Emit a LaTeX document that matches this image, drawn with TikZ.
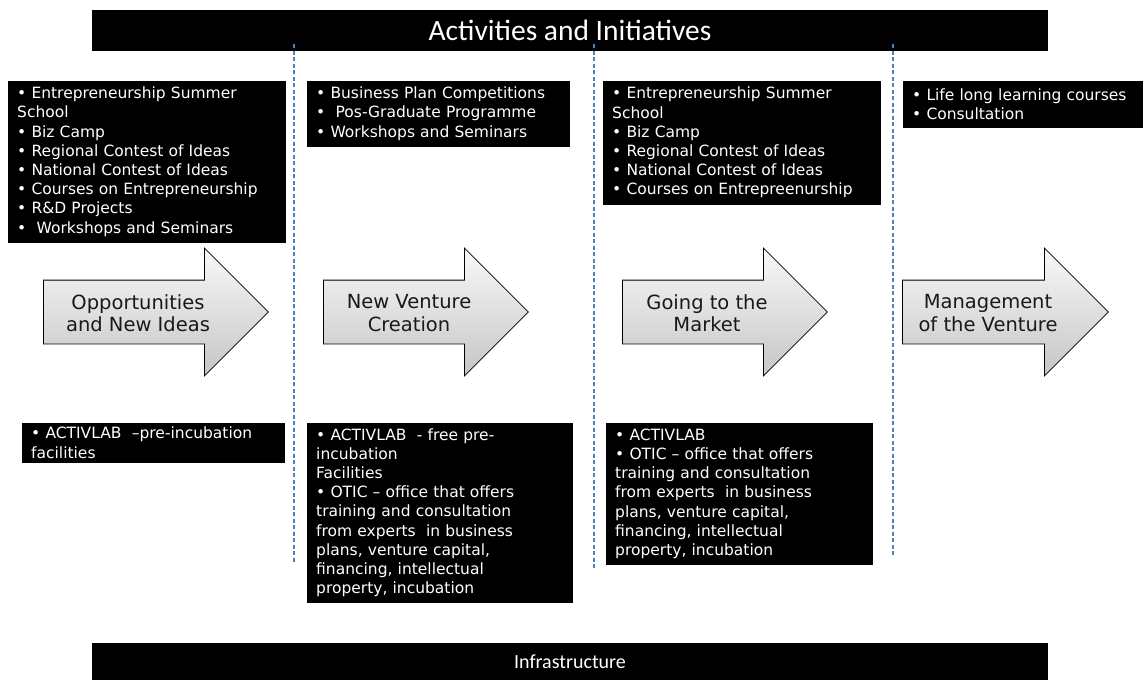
\documentclass[tikz,border=0pt]{standalone}
\usepackage{fontspec}
\setmainfont{DejaVu Sans}
\newfontfamily\barfont{Carlito}
\usepackage{xcolor}
\usetikzlibrary{shapes.arrows,positioning}
\definecolor{divblue}{HTML}{4F81BD}

\begin{document}
\begin{tikzpicture}[x=1pt, y=-1pt,
    blackbox/.style={rectangle, draw=black, fill=black, text=white, anchor=north west, align=left,
      inner xsep=9pt, inner ysep=0pt, font=\fontsize{15.5}{19.2}\selectfont},
    stagearrow/.style={single arrow, draw=black, line width=0.8pt, anchor=tail,
      single arrow head extend=32pt, single arrow head indent=0pt, inner xsep=0pt, inner ysep=31.5pt,
      top color=gray!5, bottom color=gray!45},
    stagetext/.style={align=center, text=black!90, font=\fontsize{19.5}{22.5}\selectfont},
    bar/.style={rectangle, fill=black, text=white, inner sep=0pt, minimum width=956pt},
    divider/.style={draw=divblue, dash pattern=on 4pt off 2.5pt, line width=1.2pt}]
    \useasboundingbox (0,0) rectangle (1143,680);

    \node[bar, minimum height=41pt, font=\barfont\fontsize{29.5}{31}\selectfont] (act) at (570,30.5) {Activities and Initiatives};
    \node[bar, minimum height=37pt, font=\barfont\fontsize{20}{22}\selectfont] (infra) at (570,661.5) {Infrastructure};

    \draw[divider] (294,44) -- (294,562);
    \draw[divider] (594,44) -- (594,570);
    \draw[divider] (893,44) -- (893,555);

    % activities above the stages
    \node[blackbox, text width=259pt, minimum height=161pt] (act1) at (8,81)
      {• Entrepreneurship Summer\\School\\• Biz Camp\\• Regional Contest of Ideas\\• National Contest of Ideas\\• Courses on Entrepreneurship\\• R\&D Projects\\•~ Workshops and Seminars};
    \node[blackbox, text width=244pt, minimum height=65pt] (act2) at (307,81)
      {• Business Plan Competitions\\•~ Pos-Graduate Programme\\• Workshops and Seminars};
    \node[blackbox, text width=259pt, minimum height=123pt] (act3) at (603,81)
      {• Entrepreneurship Summer\\School\\• Biz Camp\\• Regional Contest of Ideas\\• National Contest of Ideas\\• Courses on Entrepreenurship};
    \node[blackbox, text width=222pt, minimum height=46pt] (act4) at (903,81)
      {• Life long learning courses\\• Consultation};

    % stages
    \node[stagearrow, minimum height=225pt] (s1) at (43,312) {};
    \node[stagearrow, minimum height=205pt] (s2) at (323,312) {};
    \node[stagearrow, minimum height=205pt] (s3) at (622,312) {};
    \node[stagearrow, minimum height=206pt] (s4) at (902,312) {};
    \node[stagetext] (t1) at (138,313) {Opportunities\\and New Ideas};
    \node[stagetext] (t2) at (409,313) {New Venture\\Creation};
    \node[stagetext] (t3) at (707,313) {Going to the\\Market};
    \node[stagetext] (t4) at (988,313) {Management\\of the Venture};

    % infrastructure below the stages
    \node[blackbox, text width=244pt, minimum height=39pt] (inf1) at (22,423)
      {• ACTIVLAB~ –pre-incubation\\facilities};
    \node[blackbox, text width=247pt, minimum height=179pt] (inf2) at (307,423)
      {• ACTIVLAB~ - free pre-\\incubation\\Facilities\\• OTIC – office that offers\\training and consultation\\from experts~ in business\\plans, venture capital,\\financing, intellectual\\property, incubation};
    \node[blackbox, text width=248pt, minimum height=141pt] (inf3) at (606,423)
      {• ACTIVLAB\\• OTIC – office that offers\\training and consultation\\from experts~ in business\\plans, venture capital,\\financing, intellectual\\property, incubation};
\end{tikzpicture}
\end{document}
